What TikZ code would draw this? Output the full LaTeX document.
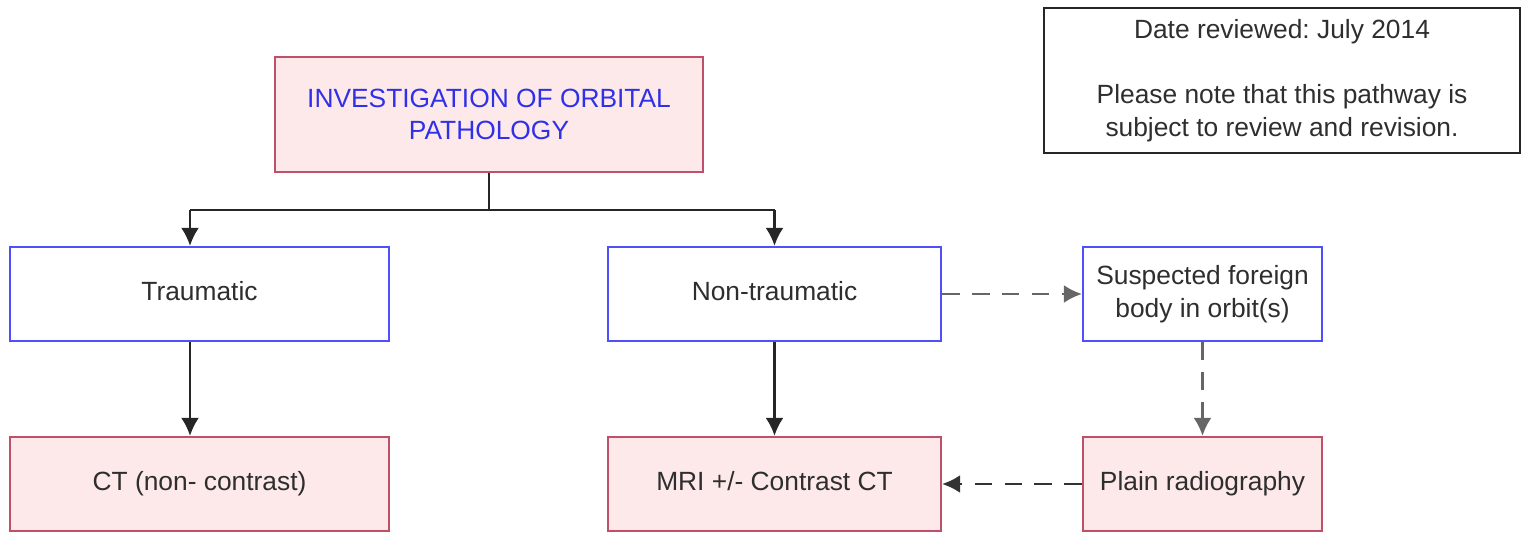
\documentclass[tikz,border=0pt]{standalone}
\usepackage{fontspec}
\setmainfont{Liberation Sans}
\usepackage{tikz}
\usetikzlibrary{arrows.meta}
\usepackage{xcolor}
\definecolor{rosa}{HTML}{FDE9E9}
\definecolor{granate}{HTML}{C0506A}
\definecolor{azul}{HTML}{5050FA}
\definecolor{azultexto}{HTML}{3030E8}
\definecolor{texto}{HTML}{2E2E2E}
\frenchspacing

\begin{document}
\begin{tikzpicture}[x=0.02cm,y=-0.02cm,>={Latex[length=3.6mm,width=3.6mm]},
  font=\fontsize{15}{18.5}\selectfont,
  caja/.style={draw,line width=1.3pt,align=center,text=texto,inner sep=0pt},
  una/.style={text height=0.95em,text depth=0.23em},
  rosabox/.style={caja,draw=granate,fill=rosa},
  azulbox/.style={caja,draw=azul,fill=white},
  linea/.style={line width=1.4pt,draw=black!85},
  flecha/.style={->,linea},
  discontinua/.style={->,line width=1.4pt,draw=black!60,dash pattern=on 10pt off 7pt}]
  % Ventana
  \useasboundingbox (0,0) rectangle (1524,533);

  % Cajas
  \node[rosabox,text=azultexto,minimum width=8.56cm,minimum height=2.3cm] (title) at (489,114.5)
    {INVESTIGATION OF ORBITAL\\PATHOLOGY};
  \node[caja,draw=black!85,minimum width=9.52cm,minimum height=2.9cm] (note) at (1282,80.5)
    {Date reviewed: July 2014\\[18.5pt]Please note that this pathway is\\subject to review and revision.};

  \node[azulbox,una,minimum width=7.58cm,minimum height=1.88cm] (trauma) at (199.5,294) {Traumatic};
  \node[azulbox,una,minimum width=6.66cm,minimum height=1.88cm] (nontrauma) at (774.5,294) {Non-traumatic};
  \node[azulbox,minimum width=4.78cm,minimum height=1.88cm] (foreign) at (1202.5,294)
    {Suspected foreign\\body in orbit(s)};

  \node[rosabox,una,minimum width=7.58cm,minimum height=1.88cm] (ct) at (199.5,484) {CT (non- contrast)};
  \node[rosabox,una,minimum width=6.66cm,minimum height=1.88cm] (mri) at (774.5,484) {MRI +/- Contrast CT};
  \node[rosabox,una,minimum width=4.78cm,minimum height=1.88cm] (plain) at (1202.5,484) {Plain radiography};

  % Conectores
  \coordinate (fork) at (489,210);
  \coordinate (forkL) at (190,210);
  \coordinate (forkR) at (774.5,210);
  \draw[linea] (title.south) -- (fork);
  \draw[linea] (forkL) -- (forkR);
  \draw[flecha] (forkL) -- (forkL |- trauma.north);
  \draw[flecha] (forkR) -- (nontrauma.north);
  \draw[flecha] (forkL |- trauma.south) -- (forkL |- ct.north);
  \draw[flecha] (nontrauma.south) -- (mri.north);

  % Cuerpo extraño
  \draw[discontinua] (nontrauma.east) -- (foreign.west);
  \draw[discontinua] (foreign.south) -- (plain.north);
  \draw[discontinua,draw=black!80] (plain.west) -- (mri.east);
\end{tikzpicture}
\end{document}
